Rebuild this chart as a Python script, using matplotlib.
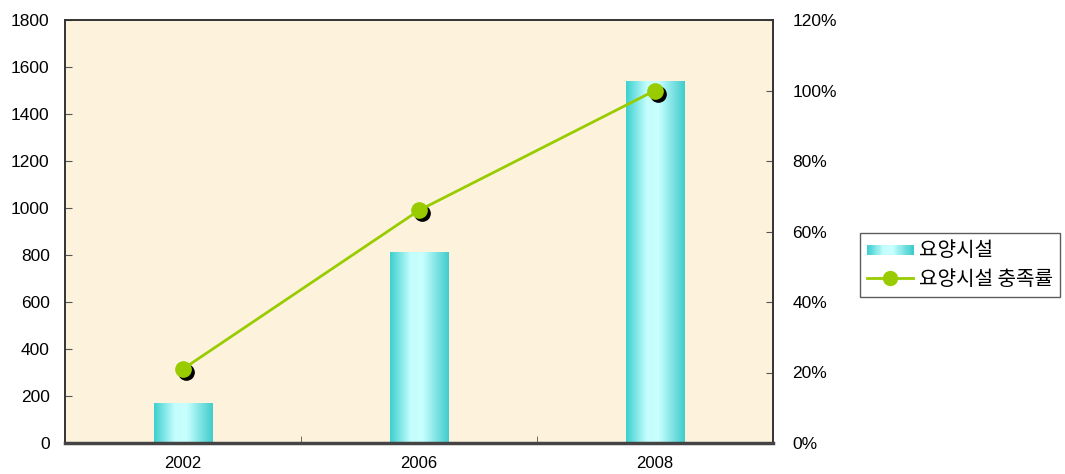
import numpy as np
import matplotlib
matplotlib.use("Agg")
import matplotlib.pyplot as plt
from matplotlib.patches import Rectangle
from matplotlib.lines import Line2D
from matplotlib.legend_handler import HandlerBase
from matplotlib.colors import LinearSegmentedColormap
import matplotlib.transforms as mtransforms

plt.rcParams['font.family'] = ['Liberation Sans', 'Noto Sans CJK KR', 'DejaVu Sans']

years = ['2002', '2006', '2008']
facilities = [170, 813, 1540]          # 요양시설 (left axis)
fill_rate = [21, 66, 100]              # 요양시설 충족률, % (right axis)

bar_name = '요양시설'
line_name = '요양시설 충족률'

# teal -> pale cyan -> teal, horizontal gradient used for the bars
teal = LinearSegmentedColormap.from_list(
    'teal', [(0.0, '#3ccfcf'), (0.35, '#c4fdfd'), (0.55, '#c8ffff'), (1.0, '#40cccc')])
line_color = '#99cc00'
bg_color = '#fdf3dd'

fig = plt.figure(figsize=(10.65, 4.74), dpi=100)
ax = fig.add_axes([65 / 1065, 31 / 474, 708 / 1065, 423 / 474])
ax.set_facecolor(bg_color)

x = np.arange(len(years))
bars = ax.bar(x, facilities, width=0.25, color='none', edgecolor='none', zorder=2)
grad = np.linspace(0, 1, 256).reshape(1, -1)
for b in bars:
    x0, y0 = b.get_x(), b.get_y()
    im = ax.imshow(grad, cmap=teal, aspect='auto', zorder=2,
                   extent=(x0, x0 + b.get_width(), y0, y0 + b.get_height()))
    im.set_clip_path(b)

ax.set_xlim(-0.5, 2.5)
ax.set_ylim(0, 1800)
ax.set_yticks(np.arange(0, 1801, 200))
ax.set_xticks(x)
ax.set_xticklabels(years)
ax.set_xticks([0.5, 1.5], minor=True)
ax.tick_params(axis='x', which='major', length=0, pad=9, labelsize=12)
ax.tick_params(axis='x', which='minor', direction='in', length=5, color='#555555')
ax.tick_params(axis='y', direction='in', length=5, pad=11, labelsize=12.5, color='#555555')

ax2 = ax.twinx()
ax2.set_ylim(0, 120)
ax2.set_yticks(np.arange(0, 121, 20))
ax2.set_yticklabels(['{}%'.format(v) for v in range(0, 121, 20)])
ax2.tick_params(axis='y', direction='in', length=5, pad=14, labelsize=12.5, color='#555555')

# drop shadow behind the markers
shadow = mtransforms.offset_copy(ax2.transData, fig=fig, x=3, y=-3, units='dots')
ax2.plot(x, fill_rate, 'o', color='black', markersize=11, transform=shadow, zorder=3)
ax2.plot(x, fill_rate, '-o', color=line_color, linewidth=2, markersize=11, zorder=4)

for a in (ax, ax2):
    for s in a.spines.values():
        s.set_color('#333333')
        s.set_linewidth(1.2)
ax2.spines['bottom'].set_linewidth(2.5)
ax2.spines['bottom'].set_color('#444444')


class GradientHandler(HandlerBase):
    def create_artists(self, legend, orig_handle, xdescent, ydescent,
                       width, height, fontsize, trans):
        n = 40
        arts = []
        for i in range(n):
            r = Rectangle((-xdescent + width * i / n, -ydescent + height * 0.1),
                          width / n + 0.3, height * 0.7,
                          facecolor=teal(i / (n - 1)), edgecolor='none', transform=trans)
            arts.append(r)
        return arts


bar_handle = Rectangle((0, 0), 1, 1)
line_handle = Line2D([], [], color=line_color, linewidth=2, marker='o', markersize=10)
leg = fig.legend([bar_handle, line_handle], [bar_name, line_name],
                 handler_map={Rectangle: GradientHandler()},
                 loc='upper left', bbox_to_anchor=(860 / 1065, 1 - 233 / 474),
                 borderaxespad=0,
                 frameon=True, fancybox=False, edgecolor='#333333',
                 handlelength=2.3, handletextpad=0.3, labelspacing=0.4,
                 borderpad=0.35, prop={'family': ['Noto Sans CJK KR', 'DejaVu Sans'], 'size': 14.5})
leg.get_frame().set_linewidth(1.0)

fig.savefig('out.png', dpi=100)
